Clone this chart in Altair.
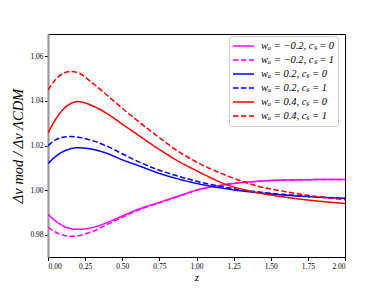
import altair as alt
import pandas as pd

z = [0, 0.05, 0.1, 0.15, 0.2, 0.3, 0.4, 0.5, 0.6, 0.75, 0.9, 1.0, 1.2, 1.4, 1.6, 1.8, 2.0]

mag_cs0 = [0.9892, 0.9862, 0.9840, 0.9828, 0.9824, 0.9832, 0.9855, 0.9884, 0.9912, 0.9945, 0.9978, 1.0000, 1.0025, 1.0039, 1.0045, 1.0047, 1.0048]
mag_cs1 = [0.9834, 0.9812, 0.9799, 0.9793, 0.9795, 0.9815, 0.9846, 0.9878, 0.9908, 0.9943, 0.9977, 0.9999, 1.0025, 1.0039, 1.0045, 1.0047, 1.0048]
blue_cs0 = [1.0119, 1.0150, 1.0172, 1.0185, 1.0190, 1.0183, 1.0164, 1.0136, 1.0112, 1.0075, 1.0046, 1.0030, 1.0006, 0.9989, 0.9977, 0.9969, 0.9963]
blue_cs1 = [1.0199, 1.0225, 1.0237, 1.0240, 1.0237, 1.0222, 1.0196, 1.0163, 1.0130, 1.0089, 1.0058, 1.0040, 1.0012, 0.9993, 0.9980, 0.9970, 0.9963]
red_cs0 = [1.0256, 1.0316, 1.0361, 1.0387, 1.0397, 1.0378, 1.0342, 1.0296, 1.0250, 1.0182, 1.0121, 1.0087, 1.0025, 0.9990, 0.9968, 0.9952, 0.9940]
red_cs1 = [1.0449, 1.0495, 1.0523, 1.0532, 1.0527, 1.0480, 1.0424, 1.0367, 1.0313, 1.0235, 1.0164, 1.0126, 1.0066, 1.0020, 0.9993, 0.9972, 0.9957]

labels = [
    "wₐ = −0.2, cₛ = 0",
    "wₐ = −0.2, cₛ = 1",
    "wₐ = 0.2, cₛ = 0",
    "wₐ = 0.2, cₛ = 1",
    "wₐ = 0.4, cₛ = 0",
    "wₐ = 0.4, cₛ = 1",
]
series = [mag_cs0, mag_cs1, blue_cs0, blue_cs1, red_cs0, red_cs1]
colors = ["#ff00ff", "#ff00ff", "#0000ff", "#0000ff", "#ff0000", "#ff0000"]
dashes = [[1, 0], [5.5, 2.4], [1, 0], [5.5, 2.4], [1, 0], [5.5, 2.4]]

rows = []
for lab, vals in zip(labels, series):
    for zi, vi in zip(z, vals):
        rows.append({"z": zi, "ratio": vi, "series": lab})
df = pd.DataFrame(rows)

FONT = "Liberation Serif"

lines = alt.Chart(df).mark_line(strokeWidth=1.5, interpolate="monotone", clip=True).encode(
    x=alt.X("z:Q", scale=alt.Scale(domain=[0, 2], nice=False),
            axis=alt.Axis(values=[0, 0.25, 0.5, 0.75, 1.0, 1.25, 1.5, 1.75, 2.0], format=".2f",
                          title="z", titleFontStyle="italic", titleFontSize=11, titleFont=FONT,
                          titleFontWeight="normal", titleBaseline="alphabetic", titleY=23.5)),
    y=alt.Y("ratio:Q", scale=alt.Scale(domain=[0.97, 1.07], nice=False, zero=False),
            axis=alt.Axis(values=[0.98, 1.00, 1.02, 1.04, 1.06], format=".2f",
                          title="Δv mod / Δv ΛCDM", titleFontStyle="italic", titleFontSize=14.5,
                          titleFontWeight="normal",
                          titleFont=FONT, titlePadding=4, domainColor="#999999", domainWidth=2.2)),
    color=alt.Color("series:N", scale=alt.Scale(domain=labels, range=colors),
                    legend=alt.Legend(title=None, orient="none", legendX=181, legendY=2,
                                      symbolType="stroke", symbolStrokeWidth=1.5,
                                      symbolSize=440, labelFont=FONT, labelFontSize=10.5,
                                      labelFontStyle="italic", fillColor="white",
                                      strokeColor="#cccccc", cornerRadius=3, padding=3,
                                      rowPadding=0, clipHeight=14, labelLimit=200, labelOffset=6)),
    strokeDash=alt.StrokeDash("series:N", scale=alt.Scale(domain=labels, range=dashes),
                              legend=None),
    detail="series:N",
)

chart = lines.properties(
    width=297, height=223,
    autosize=alt.AutoSizeParams(type="none"),
    padding={"left": 40, "top": 26, "right": 30, "bottom": 28},
).configure_view(
    stroke="black", strokeWidth=1
).configure_axis(
    grid=False, domainColor="black", domainWidth=1, tickColor="black", tickSize=3.5,
    labelFont=FONT, labelFontSize=7.5, labelColor="black", titleColor="black",
    labelPadding=1.5
)

chart.save("out.html", embed_options={"renderer": "svg", "actions": False})
